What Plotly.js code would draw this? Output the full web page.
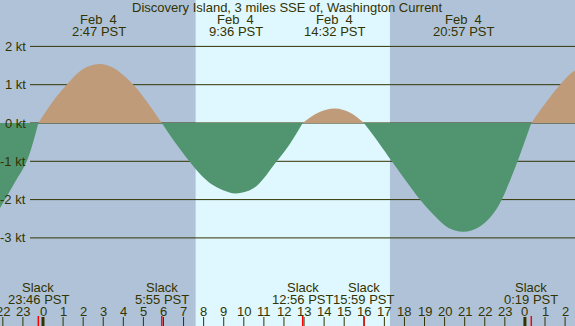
<!DOCTYPE html>
<html>
<head>
<meta charset="utf-8">
<script src="https://cdn.plot.ly/plotly-3.0.1.min.js"></script>
<style>html,body{margin:0;padding:0;background:#afc2d8;}#chart{width:575px;height:326px;}</style>
</head>
<body>
<div id="chart"></div>
<script>
// Hours relative to Feb 4 00:00 PST
const hours  = [-2.6, -2.14, -1.4, -0.81, -0.233, 0.5, 1.18, 2.0, 2.78, 3.5, 4.5, 5.0, 5.917, 6.5, 7.29, 7.82, 8.32, 9.0, 9.6, 10.5, 11.64, 12.3, 12.933, 13.7, 14.53, 15.3, 15.983, 16.7, 17.37, 17.78, 18.28, 18.77, 19.5, 20.2, 20.95, 21.7, 22.3, 22.8, 23.26, 23.62, 24.317, 25.0, 25.75, 26.49, 27.32];
const speeds = [-2.6, -2.22, -1.55, -1.0, 0, 0.57, 1.0, 1.41, 1.54, 1.44, 1.0, 0.68, 0, -0.45, -1.0, -1.33, -1.57, -1.76, -1.84, -1.70, -1.0, -0.54, 0, 0.27, 0.38, 0.27, 0, -0.5, -1.0, -1.3, -1.66, -2.0, -2.42, -2.74, -2.84, -2.72, -2.45, -2.05, -1.5, -1.02, 0, 0.5, 1.0, 1.37, 1.5];

const peakHours  = [2.78, 9.6, 14.53, 20.95, 27.32];
const peakDates  = ["Feb\u00a0\u00a04", "Feb\u00a0\u00a04", "Feb\u00a0\u00a04", "Feb\u00a0\u00a04", "Feb\u00a0\u00a05"];
const peakTimes  = ["2:47 PST", "9:36 PST", "14:32 PST", "20:57 PST", "3:19 PST"];

const slackHours = [-0.233, 5.917, 12.933, 15.983, 24.317];
const slackTimes = ["23:46 PST", "5:55 PST", "12:56 PST", "15:59 PST", "0:19 PST"];

const sunrise = 7.6, sunset = 17.28;
const ktLevels = [2, 1, 0, -1, -2, -3];
const ktLabels = ["2 kt", "1 kt", "0 kt", "-1 kt", "-2 kt", "-3 kt"];
const hourTicks = [-2,-1,0,1,2,3,4,5,6,7,8,9,10,11,12,13,14,15,16,17,18,19,20,21,22,23,24,25,26];

const title = "Discovery Island, 3 miles SSE of, Washington Current";

const W = 575, H = 326;
const TXT = "#333300";
const FONT = {family: "Liberation Sans, Arial, sans-serif", size: 13, color: TXT};
const py = p => 1 - p / H; // pixel row -> paper y

// split into flood/ebb segments at slack points
const traces = [];
let seg = {x: [], y: []};
for (let i = 0; i < hours.length; i++) {
  seg.x.push(hours[i]); seg.y.push(speeds[i]);
  if ((speeds[i] === 0 && seg.x.length > 1) || i === hours.length - 1) {
    const s = seg.y.reduce((a, b) => a + b, 0);
    traces.push({
      x: seg.x, y: seg.y, type: "scatter", mode: "lines",
      line: {width: 0, shape: "spline", smoothing: 1},
      fill: "tozeroy", fillcolor: s >= 0 ? "#bf9b7a" : "#50956f",
      hoverinfo: "skip", showlegend: false
    });
    seg = {x: [hours[i]], y: [speeds[i]]};
  }
}

const shapes = [];
shapes.push({type: "rect", xref: "x", yref: "paper", x0: sunrise, x1: sunset, y0: 0, y1: 1,
  fillcolor: "#dff7fe", line: {width: 0}, layer: "below"});
ktLevels.forEach(v => shapes.push({type: "line", xref: "paper", yref: "y", x0: 30 / W, x1: 1, y0: v, y1: v,
  line: {color: TXT, width: 1}, layer: "below"}));
hourTicks.forEach(h => {
  const mid = (h % 24) === 0;
  shapes.push({type: "line", xref: "x", yref: "paper", x0: h, x1: h, y0: py(H), y1: py(317),
    line: {color: TXT, width: mid ? 3 : 1}});
});
slackHours.forEach(h => shapes.push({type: "line", xref: "x", yref: "paper", x0: h, x1: h, y0: py(H), y1: py(316),
  line: {color: "#ff0000", width: 1.5}}));

const annotations = [];
annotations.push({text: title, xref: "paper", yref: "paper", x: 0.5, y: py(8), xanchor: "center", yanchor: "middle",
  showarrow: false, font: FONT});
peakHours.forEach((h, i) => {
  annotations.push({text: peakDates[i], xref: "x", yref: "paper", x: h, y: py(19), xanchor: "center", yanchor: "middle", showarrow: false, font: FONT});
  annotations.push({text: peakTimes[i], xref: "x", yref: "paper", x: h, y: py(32), xanchor: "center", yanchor: "middle", showarrow: false, font: FONT});
});
slackHours.forEach((h, i) => {
  annotations.push({text: "Slack", xref: "x", yref: "paper", x: h, y: py(287), xanchor: "center", yanchor: "middle", showarrow: false, font: FONT});
  annotations.push({text: slackTimes[i], xref: "x", yref: "paper", x: h, y: py(299), xanchor: "center", yanchor: "middle", showarrow: false, font: FONT});
});
hourTicks.forEach(h => annotations.push({text: String(((h % 24) + 24) % 24), xref: "x", yref: "paper", x: h, y: py(311),
  xanchor: "center", yanchor: "middle", showarrow: false, font: FONT}));
ktLevels.forEach((v, i) => annotations.push({text: ktLabels[i], xref: "paper", yref: "y", x: 28 / W, y: v,
  xanchor: "right", yanchor: "middle", showarrow: false, font: FONT}));

const x0h = -43 / 20.08, x1h = (W - 43) / 20.08;
const layout = {
  width: W, height: H, margin: {l: 0, r: 0, t: 0, b: 0, pad: 0},
  paper_bgcolor: "#afc2d8", plot_bgcolor: "#afc2d8",
  xaxis: {range: [x0h, x1h], visible: false, fixedrange: true},
  yaxis: {range: [-(H - 123) / 38.3, 123 / 38.3], visible: false, fixedrange: true},
  shapes: shapes, annotations: annotations, showlegend: false, font: FONT
};
Plotly.newPlot("chart", traces, layout, {displayModeBar: false, staticPlot: true});
</script>
</body>
</html>
